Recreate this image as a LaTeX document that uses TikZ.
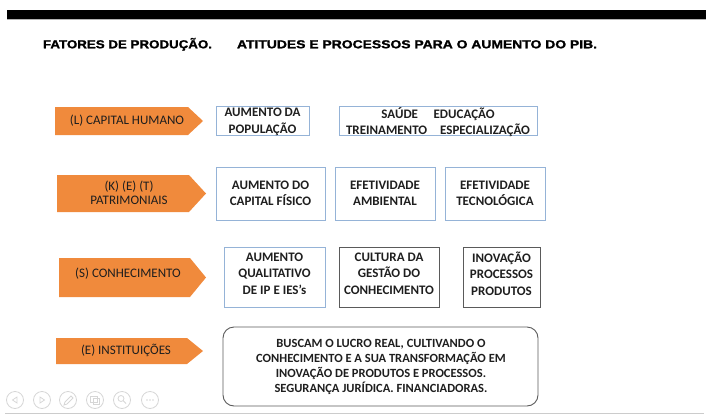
\documentclass[tikz,border=0pt]{standalone}
\usepackage{fontspec}
\setmainfont{Carlito}
\newfontfamily\titlefont[BoldFeatures={FakeBold=1.3}]{Liberation Sans}
\usetikzlibrary{positioning}
\definecolor{arroworange}{HTML}{F08A3C}
\definecolor{boxblue}{HTML}{95B3D7}
\definecolor{boxgray}{HTML}{5A5A5A}
\definecolor{txt}{HTML}{1E1E1E}
\definecolor{icongray}{HTML}{D6D6D6}
\tikzset{
  every node/.style={inner sep=0pt, outer sep=0pt},
  titletext/.style={anchor=base west, font=\titlefont\bfseries\fontsize{11.6}{13}\selectfont},
  arrowtext/.style={font=\fontsize{13}{15}\selectfont, text=txt, align=center},
  boxtext/.style={font=\bfseries\fontsize{13}{16.5}\selectfont, text=txt, align=center},
  bluebox/.style={draw=boxblue, line width=0.9pt},
  graybox/.style={draw=boxgray, line width=0.9pt},
  icon/.style={draw=icongray, line width=0.8pt},
}
\newcommand{\orangearrow}[5]{% x1 xbody xtip ytop ybot
  \fill[arroworange] (#1,#4) -- (#2,#4) -- (#3,{(#4+#5)/2}) -- (#2,#5) -- (#1,#5) -- cycle;}
\begin{document}
\begin{tikzpicture}[x=1pt,y=-1pt]
\useasboundingbox (0,0) rectangle (706,415);
% top bar
\fill[black] (7,10) rectangle (706,19);
\fill[gray!60] (7,19) rectangle (706,20);
% title
\node[titletext] (title1) at (43,48.3) {\resizebox{169pt}{\height}{FATORES DE PRODUÇÃO.}};
\node[titletext] (title2) at (237,48.3) {\resizebox{360pt}{\height}{ATITUDES E PROCESSOS PARA O AUMENTO DO PIB.}};

% row 1
\orangearrow{55}{188}{203}{107}{135}
\node[arrowtext] (a1) at (127,121) {(L) CAPITAL HUMANO};
\draw[bluebox] (216,106) rectangle (309,135);
\node[boxtext] (b1a) at (262.5,122) {AUMENTO DA\\POPULAÇÃO};
\draw[bluebox] (339,106) rectangle (537,135);
\node[boxtext] (b1b) at (438,122) {SAÚDE\hspace{1.2em}EDUCAÇÃO\\TREINAMENTO\hspace{1em}ESPECIALIZAÇÃO};

% row 2
\orangearrow{57}{189}{206}{175}{212}
\node[arrowtext, font=\fontsize{13}{14}\selectfont] (a2) at (129,193) {(K) (E) (T)\\PATRIMONIAIS};
\draw[bluebox] (216,167) rectangle (325,220);
\node[boxtext] (b2a) at (270.5,193.5) {AUMENTO DO\\CAPITAL FÍSICO};
\draw[bluebox] (335,167) rectangle (435,220);
\node[boxtext] (b2b) at (385,193.5) {EFETIVIDADE\\AMBIENTAL};
\draw[bluebox] (445,167) rectangle (545,220);
\node[boxtext] (b2c) at (495,193.5) {EFETIVIDADE\\TECNOLÓGICA};

% row 3
\orangearrow{59}{190}{206}{258}{297}
\node[arrowtext] (a3) at (128,274) {(S) CONHECIMENTO};
\draw[bluebox] (224,247) rectangle (325,307);
\node[boxtext] (b3a) at (274.5,273.5) {AUMENTO\\QUALITATIVO\\DE IP E IES’s};
\draw[graybox] (339,247) rectangle (439,307);
\node[boxtext] (b3b) at (389,273.5) {CULTURA DA\\GESTÃO DO\\CONHECIMENTO};
\draw[graybox] (463,247) rectangle (540,307);
\node[boxtext] (b3c) at (501.5,273.5) {INOVAÇÃO\\PROCESSOS\\PRODUTOS};

% row 4
\orangearrow{56}{187}{203}{338}{364}
\node[arrowtext] (a4) at (126,350) {(E) INSTITUIÇÕES};
\draw[graybox, rounded corners=11pt] (223,327) rectangle (538,406);
\node[boxtext, font=\bfseries\fontsize{12.5}{15}\selectfont] (b4) at (381,367)
  {BUSCAM O LUCRO REAL, CULTIVANDO O\\CONHECIMENTO E A SUA TRANSFORMAÇÃO EM\\INOVAÇÃO DE PRODUTOS E PROCESSOS.\\SEGURANÇA JURÍDICA. FINANCIADORAS.};

% slide controls
\foreach \cx in {15,42,68,95,122,150} {
  \draw[icon] (\cx,400) circle (8.5);
}
\draw[icon] (17,397) -- (12.5,400) -- (17,403) -- cycle;
\draw[icon] (40,397) -- (44.5,400) -- (40,403) -- cycle;
\draw[icon] (64,405) -- (65,402) -- (71,396) -- (73,398) -- (67,404) -- cycle;
\draw[icon] (90.5,396) rectangle (97,402);
\draw[icon] (93,398.5) rectangle (99.5,404.5);
\draw[icon] (121,398.5) circle (3);
\draw[icon] (123.2,400.7) -- (126,403.5);
\foreach \dx in {-3,0,3} \fill[icongray] (150+\dx,400) circle (0.9);
% bottom line
\fill[gray!40] (5,413) rectangle (704,414.2);
\end{tikzpicture}
\end{document}
